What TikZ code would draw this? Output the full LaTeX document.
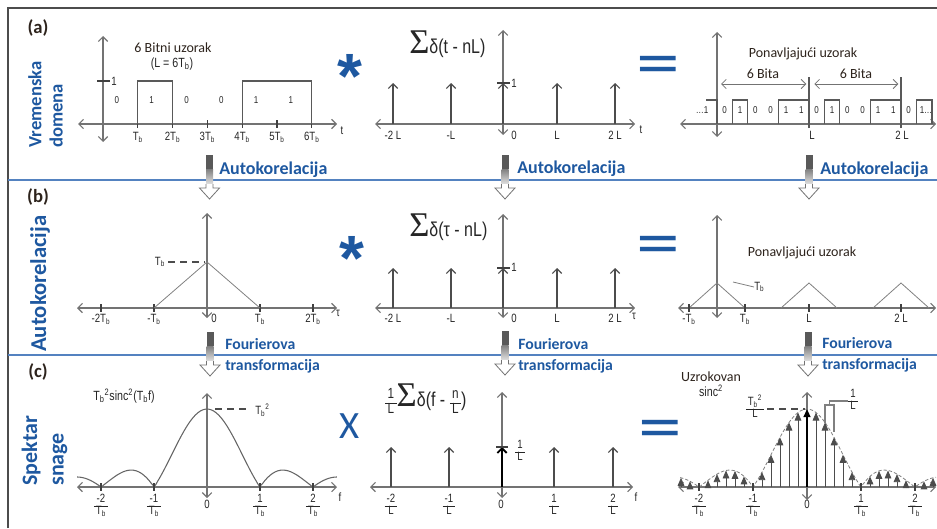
\documentclass[tikz,border=0pt]{standalone}
\usepackage{fontspec}
\setmainfont{Carlito}
\newfontfamily\narrowsf{Liberation Sans}[FakeStretch=0.8]
\newfontfamily\plainsf{Liberation Sans}
\newfontfamily\sigmafont{Liberation Serif}
\usetikzlibrary{arrows.meta}

\definecolor{rowblue}{RGB}{30,88,160}
\definecolor{lineblue}{RGB}{84,130,192}
\definecolor{tagbrown}{RGB}{45,35,28}

\newcommand{\Tb}{T\textsubscript{b}}
\newcommand{\tickfrac}[2]{{\renewcommand{\arraystretch}{0.85}%
  \begin{tabular}{@{\,}c@{\,}}#1\\\hline #2\end{tabular}}}
\newcommand{\bigsum}{{\sigmafont\fontsize{26}{26}\selectfont Σ}}
\newcommand{\smallfrac}[2]{{\fontsize{11}{12}\selectfont\tickfrac{#1}{#2}}}

\begin{document}
\begin{tikzpicture}[
    x=0.75pt, y=-0.75pt,
    axisline/.style={draw=black!55, line width=0.8pt,
        {Straight Barb[length=3.5pt,width=7pt]}-{Straight Barb[length=3.5pt,width=7pt]}},
    tickm/.style={draw=black!75, line width=0.9pt},
    pulse/.style={draw=black!65, line width=0.9pt},
    spike/.style={draw=black!70, line width=0.8pt, -{Straight Barb[length=3.5pt,width=7pt]}},
    dart/.style={draw=black!70, fill=black, line width=0.6pt, -{Triangle[length=6pt,width=5pt]}},
    tri/.style={draw=black!50, line width=0.6pt},
    dashline/.style={draw=black!70, line width=0.8pt, dash pattern=on 5pt off 4pt},
    envelope/.style={draw=black!50, line width=0.6pt, dash pattern=on 2.5pt off 1.5pt},
    lbl/.style={font=\narrowsf\fontsize{9}{10}\selectfont, text=black!85, inner sep=0pt},
    bit/.style={font=\narrowsf\fontsize{7.5}{8}\selectfont, text=black!85, inner sep=0pt},
    note/.style={font=\fontsize{10.5}{12}\selectfont, text=tagbrown, inner sep=0pt},
    sumlbl/.style={font=\narrowsf\fontsize{15}{16}\selectfont, text=black!85, inner sep=0pt},
    tag/.style={font=\bfseries\fontsize{14}{16}\selectfont, text=tagbrown, inner sep=0pt},
    side/.style={font=\bfseries\fontsize{14}{16}\selectfont, text=rowblue,
        rotate=90, align=left, anchor=west, inner sep=0pt},
    opsign/.style={text=rowblue, inner sep=0pt, anchor=base},
    stepname/.style={font=\bfseries\fontsize{13.5}{15}\selectfont, text=rowblue, anchor=west, inner sep=0pt},
    ftname/.style={font=\bfseries\fontsize{11.8}{13}\selectfont, text=rowblue, anchor=west, inner sep=0pt},
    blockarr/.pic={
        \fill[black!65] (-3.5,0) rectangle (3.5,14);
        \shade[top color=black!50, bottom color=black!12] (-3.5,14) rectangle (3.5,29);
        \draw[black!55, fill=white, line width=0.6pt]
            (-3.5,29) -- (-3.5,33) -- (-10,33) -- (0,44) -- (10,33) -- (3.5,33) -- (3.5,29);
    }
]
\useasboundingbox (0,0) rectangle (937,528);

% frame and row separators
\draw[black!70, line width=1.2pt] (8,528) -- (8,8) -- (937,8);
\draw[lineblue, line width=0.8pt] (8,180) -- (937,180);
\draw[lineblue, line width=0.8pt] (8,355) -- (937,355);

% row tags
\node[tag] (taga) at (38,28) {(a)};
\node[tag] (tagb) at (38,197) {(b)};
\node[tag] (tagc) at (38,372) {(c)};
\node[side] (sidea) at (45.5,148) {Vremenska\\domena};
\node[side, font=\bfseries\fontsize{17}{19}\selectfont] (sideb) at (40,352) {Autokorelacija};
\node[side, font=\bfseries\fontsize{16.5}{20}\selectfont] (sidec) at (44.5,486) {Spektar\\snage};

% ---------- row (a) ----------
% left: 6 bit pattern
\draw[axisline] (78,124) -- (337,124);
\draw[axisline] (103,142) -- (103,36);
\foreach \i/\lab in {1/\Tb,2/2\Tb,3/3\Tb,4/4\Tb,5/5\Tb,6/6\Tb}{
    \draw[tickm] ({103+34.8*\i},120) -- ++(0,8);
    \node[lbl, anchor=north] (ta\i) at ({103+34.8*\i},132) {\lab};
}
\draw[pulse] (137.8,124) |- (172.6,81) -- (172.6,124);
\draw[pulse] (242.2,124) |- (311.8,81) -- (311.8,124);
\draw[tickm] (97,81) -- (110,81);
\node[lbl, anchor=west] (onea) at (111,81) {1};
\foreach \b [count=\i] in {0,1,0,0,1,1}
    \node[bit] (ba\i) at ({103+34.8*(\i-0.6)},100) {\b};
\node[lbl] (ta) at (342,131) {t};
\node[note] (pata) at (173,48) {6 Bitni uzorak};
\node[lbl, font=\narrowsf\fontsize{10}{11}\selectfont] (lena) at (172,64) {(L = 6\Tb)};

\node[opsign, font=\plainsf\bfseries\fontsize{48}{48}\selectfont] (conva) at (349.5,98) {*};

% middle: impulse train
\draw[axisline] (375,124) -- (635,124);
\draw[axisline] (503,135) -- (503,30);
\foreach \x/\lab [count=\i] in {393/-2 L,451/-L,557/L,615/2 L}{
    \draw[spike] (\x,124) -- (\x,83);
    \node[lbl, anchor=north] (tma\i) at (\x,131) {\lab};
}
\draw[spike] (503,124) -- (503,83);
\draw[tickm] (497,83) -- (510,83);
\node[lbl, anchor=west] (onem) at (511,83) {1};
\node[lbl, anchor=north west] (zma) at (511,131) {0};
\node[lbl] (tma) at (641,130) {t};
\node[sumlbl, anchor=base west] (suma) at (409,54) {\bigsum δ(t - nL)};

\node[opsign, font=\plainsf\bfseries\fontsize{30.5}{30.5}\selectfont] (eqa) at (658,77) {\scalebox{1.75}[1]{=}};

% right: repeated pattern
\draw[axisline] (680,124) -- (936,124);
\draw[axisline] (717,137) -- (717,32);
\draw[pulse] (706,100) -- (717,100) -- (717,124);
\foreach \p in {0,92}{
    \draw[pulse] ({732.3+\p},124) |- ({747.7+\p},100) -- ({747.7+\p},124);
    \draw[pulse] ({778.3+\p},124) |- ({809+\p},100) -- ({809+\p},124);
}
\draw[pulse] (916.3,124) |- (932,100) -- (932,124);
\foreach \b [count=\i] in {0,1,0,0,1,1,0,1,0,0,1,1,0}
    \node[bit] (br\i) at ({717+15.33*(\i-0.5)},110) {\b};
\node[bit] (dotl) at (702,110) {\ldots1};
\node[bit] (dotr) at (926,110) {1\ldots};
\draw[pulse] (809,128) -- (809,77);
\draw[pulse] (901,128) -- (901,77);
\coordinate (bitsL) at (717,84);
\coordinate (bitsM) at (809,84);
\coordinate (bitsR) at (901,84);
\draw[axisline, line width=0.6pt, shorten <=3pt, shorten >=2pt] (bitsL) -- (bitsM);
\draw[axisline, line width=0.6pt, shorten <=4pt, shorten >=2pt] (bitsM) -- (bitsR);
\node[note] (sixa) at (763,74) {6 Bita};
\node[note] (sixb) at (856,74) {6 Bita};
\node[note] (repa) at (803,54) {Ponavljajući uzorak};
\node[lbl, anchor=north] (tra1) at (812,131) {L};
\node[lbl, anchor=north] (tra2) at (902,131) {2 L};

% transition (a) -> (b)
\pic (ka1) at (209.5,155) {blockarr};
\pic (ka2) at (505,155) {blockarr};
\pic (ka3) at (809,155) {blockarr};
\node[stepname] (acl) at (219,170) {Autokorelacija};
\node[stepname] (acm) at (517,169) {Autokorelacija};
\node[stepname] (acr) at (820,170) {Autokorelacija};

% ---------- row (b) ----------
% left: triangle
\draw[axisline] (77,308) -- (337,308);
\draw[axisline] (207,318) -- (207,213);
\foreach \k/\lab [count=\i] in {-2/-2\Tb,-1/-\Tb,1/\Tb,2/2\Tb}{
    \draw[tickm] ({207+53*\k},304) -- ++(0,8);
    \node[lbl, anchor=north] (tb\i) at ({207+53*\k},314) {\lab};
}
\draw[tri] (154,308) -- (207,262) -- (260,308);
\draw[dashline] (168,262) -- (205,262);
\node[lbl] (peakb) at (160,262) {\Tb};
\node[lbl, anchor=north west] (zb) at (211,314) {0};
\node[lbl] (taub) at (338,313) {τ};

\node[opsign, font=\plainsf\bfseries\fontsize{48}{48}\selectfont] (convb) at (352,280) {*};

% middle: impulse train
\draw[axisline] (375,308) -- (635,308);
\draw[axisline] (503,318) -- (503,214);
\foreach \x/\lab [count=\i] in {393/-2 L,451/-L,557/L,615/2 L}{
    \draw[spike] (\x,308) -- (\x,268);
    \node[lbl, anchor=north] (tmb\i) at (\x,314) {\lab};
}
\draw[spike] (503,308) -- (503,268);
\draw[tickm] (497,268) -- (510,268);
\node[lbl, anchor=west] (onemb) at (511,267) {1};
\node[lbl, anchor=north west] (zmb) at (511,314) {0};
\node[lbl] (taumb) at (634,316) {τ};
\node[sumlbl, anchor=base west] (sumb) at (409,236) {\bigsum δ(τ - nL)};

\node[opsign, font=\plainsf\bfseries\fontsize{30.5}{30.5}\selectfont] (eqb) at (658,257.5) {\scalebox{1.75}[1]{=}};

% right: repeated triangles
\draw[axisline] (678,308) -- (936,308);
\draw[axisline] (717,318) -- (717,215);
\foreach \c in {717,809,901}
    \draw[tri] ({\c-28},308) -- (\c,283) -- ({\c+28},308);
\foreach \x/\lab [count=\i] in {689/-\Tb,745/\Tb,809/L,901/2 L}{
    \draw[tickm] (\x,304) -- ++(0,8);
    \node[lbl, anchor=north] (trb\i) at (\x,314) {\lab};
}
\node[lbl, anchor=west] (peakrb) at (754,287) {\Tb};
\draw[tri] (733,282) -- (peakrb.west);
\node[note] (repb) at (802,253) {Ponavljajući uzorak};

% transition (b) -> (c)
\pic (kb1) at (210,332) {blockarr};
\pic (kb2) at (505,331) {blockarr};
\pic (kb3) at (808,332) {blockarr};
\node[ftname] (fl1) at (225,344) {Fourierova};
\node[ftname] (fl2) at (225,366) {transformacija};
\node[ftname] (fm1) at (518,344) {Fourierova};
\node[ftname] (fm2) at (518,366) {transformacija};
\node[ftname] (fr1) at (822,343) {Fourierova};
\node[ftname] (fr2) at (822,365) {transformacija};

% ---------- row (c) ----------
% left: sinc shaped spectrum
\draw[axisline] (77,487) -- (337,487);
\draw[axisline] (207,498) -- (207,393);
\draw[black!60, line width=0.8pt] plot[domain=-2.45:2.45, samples=98, smooth]
    ({207+53*\x}, {487-78*abs(sin(180*\x)/(pi*\x))});
\foreach \k/\lab [count=\i] in {-2/-2,-1/-1,1/1,2/2}{
    \draw[tickm] ({207+53*\k},483) -- ++(0,8);
    \node[lbl, anchor=north] (tc\i) at ({207+53*\k},494) {\tickfrac{\lab}{\Tb}};
}
\node[lbl, anchor=north] (zc) at (207,500) {0};
\node[lbl] (fc) at (340,497) {f};
\draw[dashline] (215,409) -- (250,409);
\node[lbl, anchor=west] (peakc) at (255,410) {\Tb\textsuperscript{2}};
\node[lbl, font=\narrowsf\fontsize{10}{11}\selectfont] (sincl) at (124,396)
    {\Tb\textsuperscript{2}sinc\textsuperscript{2}(\Tb f)};

\node[opsign, font=\fontsize{29}{29}\selectfont] (mulc) at (350,438) {X};

% middle: impulse train in f
\draw[axisline] (370,487) -- (633,487);
\draw[axisline] (502,498) -- (502,392);
\foreach \x/\lab [count=\i] in {391/-2,449/-1,554/1,613/2}{
    \draw[spike] (\x,487) -- (\x,447);
    \node[lbl, anchor=north] (tmc\i) at (\x,494) {\tickfrac{\lab}{L}};
}
\draw[spike, line width=1.4pt, draw=black] (502,487) -- (502,447);
\draw[tickm] (496,447) -- (508,447);
\node[lbl, anchor=west] (onemc) at (515,452) {\tickfrac{1}{L}};
\node[lbl, anchor=north] (zmc) at (501,500) {0};
\node[lbl] (fmc) at (636,497) {f};
\node[sumlbl, anchor=west] (sumc) at (385,401) {\smallfrac{1}{L}\bigsum δ(f - \smallfrac{n}{L})};

\node[opsign, font=\plainsf\bfseries\fontsize{30.5}{30.5}\selectfont] (eqc) at (660,441.5) {\scalebox{1.75}[1]{=}};

% right: sampled spectrum
\draw[axisline] (678,487) -- (936,487);
\draw[axisline] (807,500) -- (807,392);
\draw[envelope] plot[domain=-2.35:2.39, samples=96, smooth]
    ({807+54*\x}, {487-78*abs(sin(180*\x)/(pi*\x))});
\foreach \k in {-14,...,-1,1,2,...,14}{
    \pgfmathsetmacro\hh{78*abs(sin(30*\k)/(pi*\k/6))}
    \ifdim\hh pt>2pt
        \draw[dart] ({807+9*\k},487) -- ({807+9*\k},{487-\hh});
    \fi
}
\draw[dart, draw=black, line width=1.5pt] (807,487) -- (807,409);
\foreach \k/\lab [count=\i] in {-2/-2,-1/-1,1/1,2/2}{
    \draw[tickm] ({807+54*\k},483) -- ++(0,8);
    \node[lbl, anchor=north] (trc\i) at ({807+54*\k},494) {\tickfrac{\lab}{\Tb}};
}
\node[lbl, anchor=north] (zrc) at (807,500) {0};
\node[lbl] (peakrc) at (755,408) {\tickfrac{\Tb\textsuperscript{2}}{L}};
\draw[dashline] (767,409) -- (805,409);
\node[lbl] (stepc) at (853,401) {\tickfrac{1}{L}};
\draw[tri, line width=0.8pt] (825,423) |- (834,405) -- (834,432);
\draw[tri, line width=0.8pt] (829.5,405) |- (stepc.west);
\node[note] (uzr) at (711,377) {Uzrokovan};
\node[lbl, font=\narrowsf\fontsize{10}{11}\selectfont] (uzs) at (711,391) {sinc\textsuperscript{2}};

\end{tikzpicture}
\end{document}
